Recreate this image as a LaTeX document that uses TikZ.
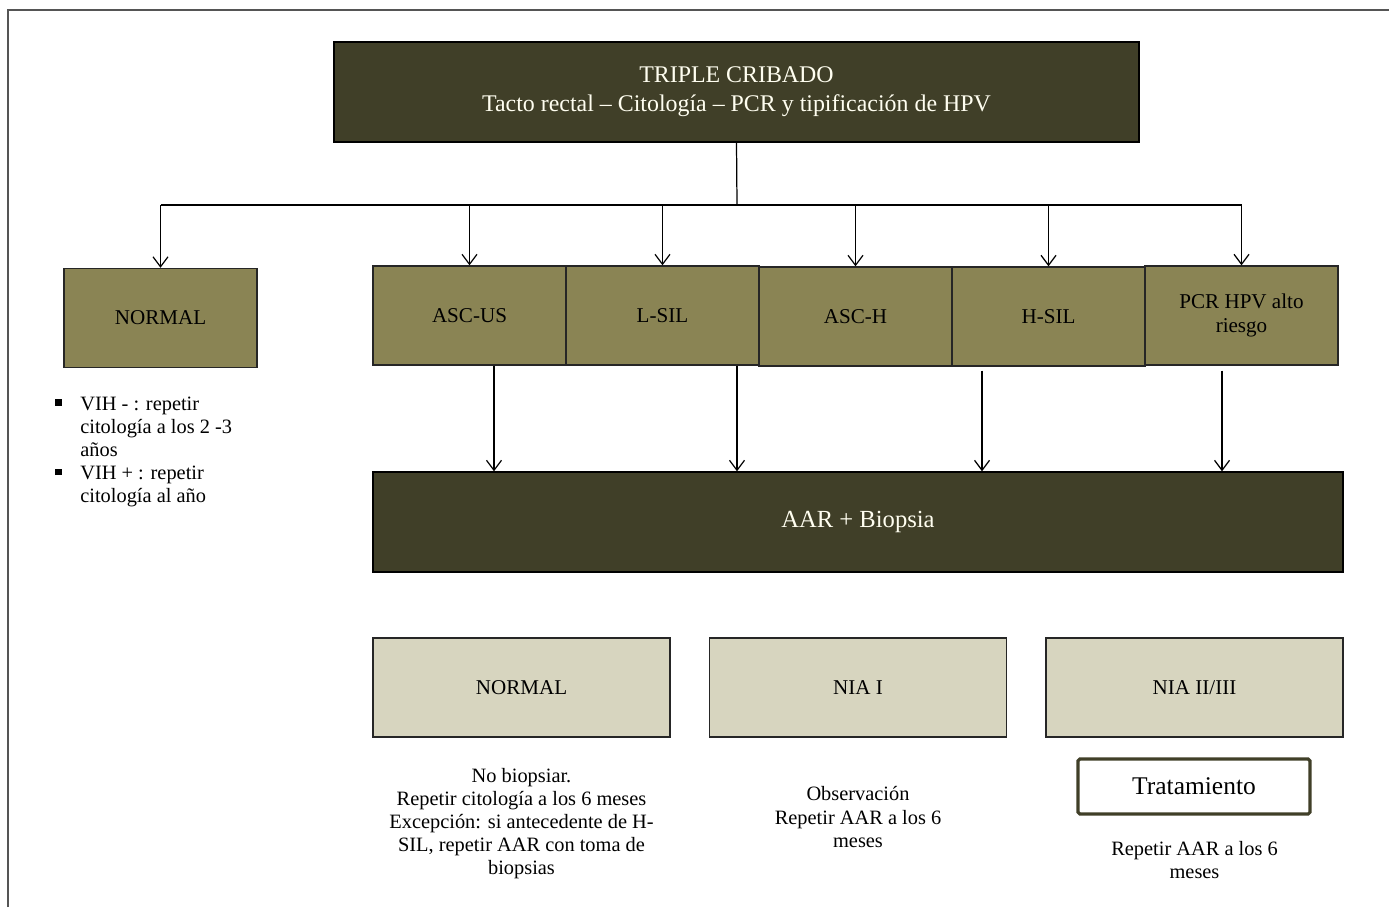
\documentclass[tikz,border=0pt]{standalone}
\usepackage{fontspec}
\setmainfont{Liberation Serif}
\usepackage{tikz}
\usetikzlibrary{positioning,arrows.meta}
\usepackage{xcolor}
\definecolor{cribadodark}{HTML}{403F28}
\definecolor{citomid}{HTML}{8A8454}
\definecolor{biopsialight}{HTML}{D7D5BF}
\definecolor{framegray}{HTML}{555555}
\newcommand{\sqbullet}{\rule[0.22em]{0.13cm}{0.13cm}}

\begin{document}
\begin{tikzpicture}[
  x=0.02cm, y=-0.02cm,
  every node/.style={font=\fontsize{11.6}{13.1}\selectfont},
  cribado/.style={draw=black, fill=cribadodark, text=white!94!yellow,
    align=center, line width=0.8pt,
    minimum width=16.1cm, minimum height=2cm,
    font=\fontsize{13.6}{16.5}\selectfont},
  cito/.style={draw=black!85, fill=citomid, align=center, line width=0.8pt,
    minimum width=3.86cm, minimum height=1.98cm, inner sep=2pt,
    font=\fontsize{12}{13.6}\selectfont},
  resultado/.style={draw=black!85, fill=biopsialight, align=center, line width=0.8pt,
    minimum width=5.94cm, minimum height=1.98cm,
    font=\fontsize{12}{13.6}\selectfont},
  nota/.style={align=center, inner sep=0pt},
  trat/.style={draw=cribadodark, line width=1.8pt, rounded corners=1pt,
    minimum width=4.64cm, minimum height=1.1cm,
    font=\fontsize{14.5}{16}\selectfont},
  arr/.style={-{Straight Barb[length=2mm,width=3mm]}, line width=0.7pt},
  line/.style={line width=0.7pt},
]
\useasboundingbox (0,0) rectangle (1389,907);
\draw[framegray, line width=0.6pt] (8,907) -- (8,10) -- (1389,10);

\node[cribado] at (736.5, 92) (triple) {TRIPLE CRIBADO\\Tacto rectal -- Citología -- PCR y tipificación de HPV};

\node[cito] at (160.5, 318) (normal) {NORMAL};
\node[cito] at (469.5, 315.5) (ascus) {ASC-US};
\node[cito] at (662.5, 315.5) (lsil)  {L-SIL};
\node[cito] at (855.5, 316.5) (asch)  {ASC-H};
\node[cito] at (1048.5, 316.5) (hsil) {H-SIL};
\node[cito] at (1241.5, 315.5) (pcr)  {PCR HPV alto\\riesgo};

\node[anchor=north west, inner sep=0pt] at (55, 394) (vih) {%
  \begin{tabular}{@{}p{0.5cm}@{}l@{}}
  \sqbullet & VIH - : repetir\\
            & citología a los 2 -3\\
            & años\\
  \sqbullet & VIH + : repetir\\
            & citología al año
  \end{tabular}};

\node[cribado, minimum width=19.4cm, font=\fontsize{14}{16}\selectfont] at (858, 522) (aar) {AAR + Biopsia};

\node[resultado] at (521.5, 687.5) (rnormal) {NORMAL};
\node[resultado] at (858, 687.5) (nia1) {NIA I};
\node[resultado] at (1194.5, 687.5) (nia23) {NIA II/III};

\node[nota] at (521.5, 824) (nbiop) {No biopsiar.\\Repetir citología a los 6 meses\\Excepción: si antecedente de H-\\SIL, repetir AAR con toma de\\biopsias};
\node[nota] at (858, 817) (obs) {Observación\\Repetir AAR a los 6\\meses};
\node[trat] at (1194, 786.5) (tratamiento) {Tratamiento};
\node[nota] at (1194.5, 860) (rep) {Repetir AAR a los 6\\meses};

% tronco comun
\coordinate (bus) at (737, 205);
\draw[line] (triple.south) -- (bus);
\draw[line] (bus -| normal.north) -- (bus -| pcr.north);
\foreach \n in {normal, ascus, lsil, asch, hsil, pcr}
  \draw[arr] (bus -| \n.north) -- (\n.north);

% hacia AAR
\draw[arr] ([xshift=0.49cm]ascus.south) -- ([xshift=0.49cm]ascus.south |- aar.north);
\draw[arr] ([xshift=1.49cm]lsil.south) -- ([xshift=1.49cm]lsil.south |- aar.north);
\draw[arr] ([xshift=-1.33cm, yshift=-0.08cm]hsil.south) -- ([xshift=-1.33cm]hsil.south |- aar.north);
\draw[arr] ([xshift=-0.39cm, yshift=-0.1cm]pcr.south) -- ([xshift=-0.39cm]pcr.south |- aar.north);
\end{tikzpicture}
\end{document}
